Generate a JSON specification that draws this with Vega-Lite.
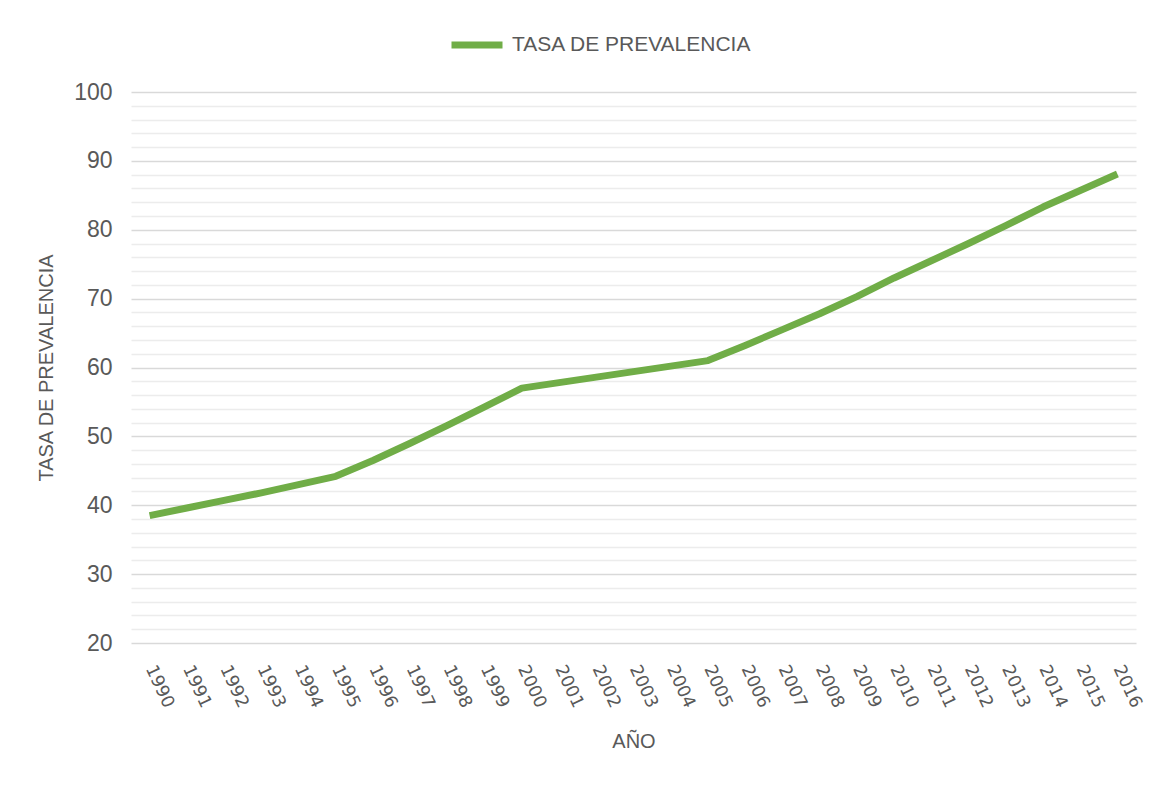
{
  "$schema": "https://vega.github.io/schema/vega-lite/v6.json",
  "width": 1005,
  "height": 551,
  "autosize": {"type": "none"},
  "padding": {"left": 131, "top": 92, "right": 26, "bottom": 143},
  "background": "white",
  "config": {"view": {"stroke": null}},
  "data": {
    "values": [
      {"year": "1990", "tasa": 38.5, "serie": "TASA DE PREVALENCIA"},
      {"year": "1991", "tasa": 39.6, "serie": "TASA DE PREVALENCIA"},
      {"year": "1992", "tasa": 40.7, "serie": "TASA DE PREVALENCIA"},
      {"year": "1993", "tasa": 41.8, "serie": "TASA DE PREVALENCIA"},
      {"year": "1994", "tasa": 43.0, "serie": "TASA DE PREVALENCIA"},
      {"year": "1995", "tasa": 44.2, "serie": "TASA DE PREVALENCIA"},
      {"year": "1996", "tasa": 46.5, "serie": "TASA DE PREVALENCIA"},
      {"year": "1997", "tasa": 49.0, "serie": "TASA DE PREVALENCIA"},
      {"year": "1998", "tasa": 51.6, "serie": "TASA DE PREVALENCIA"},
      {"year": "1999", "tasa": 54.3, "serie": "TASA DE PREVALENCIA"},
      {"year": "2000", "tasa": 57.0, "serie": "TASA DE PREVALENCIA"},
      {"year": "2001", "tasa": 57.8, "serie": "TASA DE PREVALENCIA"},
      {"year": "2002", "tasa": 58.6, "serie": "TASA DE PREVALENCIA"},
      {"year": "2003", "tasa": 59.4, "serie": "TASA DE PREVALENCIA"},
      {"year": "2004", "tasa": 60.2, "serie": "TASA DE PREVALENCIA"},
      {"year": "2005", "tasa": 61.0, "serie": "TASA DE PREVALENCIA"},
      {"year": "2006", "tasa": 63.2, "serie": "TASA DE PREVALENCIA"},
      {"year": "2007", "tasa": 65.5, "serie": "TASA DE PREVALENCIA"},
      {"year": "2008", "tasa": 67.8, "serie": "TASA DE PREVALENCIA"},
      {"year": "2009", "tasa": 70.3, "serie": "TASA DE PREVALENCIA"},
      {"year": "2010", "tasa": 73.0, "serie": "TASA DE PREVALENCIA"},
      {"year": "2011", "tasa": 75.5, "serie": "TASA DE PREVALENCIA"},
      {"year": "2012", "tasa": 78.0, "serie": "TASA DE PREVALENCIA"},
      {"year": "2013", "tasa": 80.6, "serie": "TASA DE PREVALENCIA"},
      {"year": "2014", "tasa": 83.3, "serie": "TASA DE PREVALENCIA"},
      {"year": "2015", "tasa": 85.7, "serie": "TASA DE PREVALENCIA"},
      {"year": "2016", "tasa": 88.1, "serie": "TASA DE PREVALENCIA"}
    ]
  },
  "mark": {"type": "line", "strokeWidth": 7, "strokeCap": "butt", "strokeJoin": "round"},
  "encoding": {
    "x": {
      "field": "year",
      "type": "ordinal",
      "scale": {"type": "point", "padding": 0.5},
      "axis": {
        "title": "AÑO",
        "titleFont": "Liberation Sans",
        "titleFontSize": 20,
        "titleFontWeight": "normal",
        "titleColor": "#595959",
        "titlePadding": 22,
        "labelAngle": 65,
        "labelAlign": "left",
        "labelBaseline": "middle",
        "labelFont": "DejaVu Sans",
        "labelFontSize": 17.5,
        "labelColor": "#595959",
        "labelPadding": 23,
        "ticks": false,
        "domain": false,
        "grid": false
      }
    },
    "y": {
      "field": "tasa",
      "type": "quantitative",
      "scale": {"domain": [20, 100], "nice": false, "zero": false},
      "axis": {
        "title": "TASA DE PREVALENCIA",
        "titleFont": "Liberation Sans",
        "titleFontSize": 20,
        "titleFontWeight": "normal",
        "titleColor": "#595959",
        "titlePadding": 17,
        "values": [20,22,24,26,28,30,32,34,36,38,40,42,44,46,48,50,52,54,56,58,60,62,64,66,68,70,72,74,76,78,80,82,84,86,88,90,92,94,96,98,100],
        "labelExpr": "datum.value % 10 === 0 ? datum.label : ''",
        "labelOverlap": false,
        "labelFont": "Liberation Sans",
        "labelFontSize": 23,
        "labelColor": "#595959",
        "labelPadding": 19,
        "ticks": false,
        "domain": false,
        "grid": true,
        "gridColor": {"condition": {"test": "datum.value % 10 === 0", "value": "#d9d9d9"}, "value": "#ececec"},
        "gridWidth": 1.5
      }
    },
    "color": {
      "field": "serie",
      "type": "nominal",
      "scale": {"range": ["#70AD47"]},
      "legend": {
        "title": null,
        "orient": "none",
        "legendX": 317,
        "legendY": -76,
        "symbolType": "stroke",
        "symbolStrokeWidth": 7,
        "symbolSize": 2601,
        "labelFont": "Liberation Sans",
        "labelFontSize": 21,
        "labelLimit": 0,
        "labelColor": "#595959",
        "labelOffset": 6
      }
    }
  }
}
